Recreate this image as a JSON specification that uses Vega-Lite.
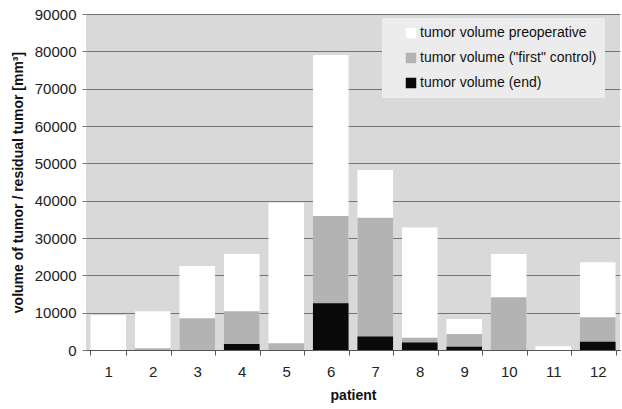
{
  "$schema": "https://vega.github.io/schema/vega-lite/v6.json",
  "autosize": "none",
  "width": 534,
  "height": 336,
  "padding": {"left": 86, "top": 14, "right": 2, "bottom": 59},
  "background": "white",
  "config": {
    "font": "Liberation Sans",
    "view": {"fill": "#d9d9d9", "stroke": null}
  },
  "data": {"values": [
    {"patient": "1", "series": "tumor volume preoperative", "value": 9300},
    {"patient": "2", "series": "tumor volume preoperative", "value": 10400},
    {"patient": "3", "series": "tumor volume preoperative", "value": 22500},
    {"patient": "4", "series": "tumor volume preoperative", "value": 25700},
    {"patient": "5", "series": "tumor volume preoperative", "value": 39500},
    {"patient": "6", "series": "tumor volume preoperative", "value": 79000},
    {"patient": "7", "series": "tumor volume preoperative", "value": 48200},
    {"patient": "8", "series": "tumor volume preoperative", "value": 32800},
    {"patient": "9", "series": "tumor volume preoperative", "value": 8300},
    {"patient": "10", "series": "tumor volume preoperative", "value": 25700},
    {"patient": "11", "series": "tumor volume preoperative", "value": 1000},
    {"patient": "12", "series": "tumor volume preoperative", "value": 23500},
    {"patient": "1", "series": "tumor volume (\"first\" control)", "value": 0},
    {"patient": "2", "series": "tumor volume (\"first\" control)", "value": 500},
    {"patient": "3", "series": "tumor volume (\"first\" control)", "value": 8500},
    {"patient": "4", "series": "tumor volume (\"first\" control)", "value": 10400},
    {"patient": "5", "series": "tumor volume (\"first\" control)", "value": 1800},
    {"patient": "6", "series": "tumor volume (\"first\" control)", "value": 35900},
    {"patient": "7", "series": "tumor volume (\"first\" control)", "value": 35400},
    {"patient": "8", "series": "tumor volume (\"first\" control)", "value": 3300},
    {"patient": "9", "series": "tumor volume (\"first\" control)", "value": 4300},
    {"patient": "10", "series": "tumor volume (\"first\" control)", "value": 14100},
    {"patient": "11", "series": "tumor volume (\"first\" control)", "value": 0},
    {"patient": "12", "series": "tumor volume (\"first\" control)", "value": 8800},
    {"patient": "1", "series": "tumor volume (end)", "value": 0},
    {"patient": "2", "series": "tumor volume (end)", "value": 0},
    {"patient": "3", "series": "tumor volume (end)", "value": 0},
    {"patient": "4", "series": "tumor volume (end)", "value": 1600},
    {"patient": "5", "series": "tumor volume (end)", "value": 0},
    {"patient": "6", "series": "tumor volume (end)", "value": 12500},
    {"patient": "7", "series": "tumor volume (end)", "value": 3600},
    {"patient": "8", "series": "tumor volume (end)", "value": 2000},
    {"patient": "9", "series": "tumor volume (end)", "value": 900},
    {"patient": "10", "series": "tumor volume (end)", "value": 0},
    {"patient": "11", "series": "tumor volume (end)", "value": 0},
    {"patient": "12", "series": "tumor volume (end)", "value": 2200}
  ]},
  "mark": {"type": "bar"},
  "encoding": {
    "x": {
      "field": "patient", "type": "ordinal", "sort": null,
      "scale": {"paddingInner": 0.2, "paddingOuter": 0.1},
      "axis": {
        "title": "patient", "titleFontSize": 14, "titleFontWeight": "bold", "titleColor": "#111",
        "titlePadding": 9,
        "labelAngle": 0, "labelFontSize": 15, "labelColor": "#222", "labelPadding": 9,
        "tickBand": "extent", "tickSize": 5, "tickColor": "#555", "domainColor": "#555"
      }
    },
    "y": {
      "field": "value", "type": "quantitative", "stack": null,
      "scale": {"domain": [0, 90000], "nice": false},
      "axis": {
        "title": "volume of tumor / residual tumor [mm³]",
        "titleFontSize": 14, "titleFontWeight": "bold", "titleColor": "#111", "titlePadding": 9,
        "values": [0, 10000, 20000, 30000, 40000, 50000, 60000, 70000, 80000, 90000],
        "format": "d", "labelFontSize": 15, "labelColor": "#222", "labelPadding": 6,
        "grid": true, "gridColor": "#737373", "gridOpacity": 1,
        "domain": false, "tickSize": 4, "tickColor": "#777"
      }
    },
    "color": {
      "field": "series", "type": "nominal",
      "scale": {
        "domain": ["tumor volume preoperative", "tumor volume (\"first\" control)", "tumor volume (end)"],
        "range": ["#ffffff", "#b3b3b3", "#0a0a0a"]
      },
      "legend": {
        "title": null, "orient": "none", "legendX": 296, "legendY": 4,
        "fillColor": "#ececec", "padding": 8, "rowPadding": 11,
        "symbolType": "square", "symbolSize": 110, "symbolStrokeWidth": 0,
        "symbolOffset": 14,
        "labelFontSize": 14, "labelColor": "#111", "labelOffset": 2,
        "labelLimit": 300
      }
    }
  }
}
